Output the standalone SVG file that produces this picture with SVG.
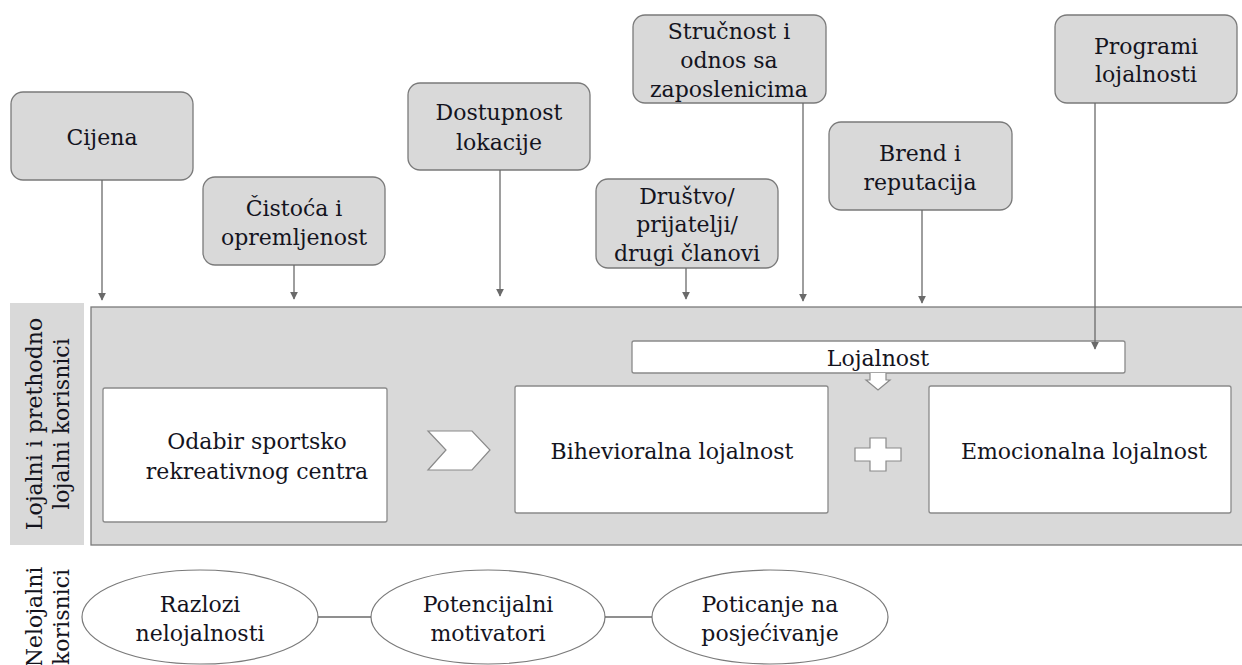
<svg xmlns="http://www.w3.org/2000/svg" width="1242" height="665" viewBox="0 0 1242 665">
<style>
  text { font-family: "DejaVu Serif", serif; font-size: 22px; fill: #14141e; text-anchor: middle; }
  .factor { fill: #d9d9d9; stroke: #7a7a7a; stroke-width: 1.3; }
  .white { fill: #ffffff; stroke: #8a8a8a; stroke-width: 1.3; }
  .panel { fill: #d9d9d9; stroke: #7a7a7a; stroke-width: 1.3; }
  .conn { stroke: #6a6a6a; stroke-width: 1.3; fill: none; }
  .ell { fill: #ffffff; stroke: #7a7a7a; stroke-width: 1.2; }
</style>
<defs>
  <marker id="arr" viewBox="0 0 10 10" refX="9" refY="5" markerWidth="8" markerHeight="8" markerUnits="userSpaceOnUse" orient="auto">
    <path d="M0,0 L10,5 L0,10 z" fill="#6a6a6a"/>
  </marker>
</defs>

<rect x="0" y="0" width="1242" height="665" fill="#ffffff"/>

<g id="panel-loyal">
  <rect x="10" y="303" width="74" height="242" fill="#d9d9d9"/>
  <text transform="translate(48,424) rotate(-90)"><tspan x="0" y="-6">Lojalni i prethodno</tspan><tspan x="0" y="21">lojalni korisnici</tspan></text>
  <rect class="panel" x="91" y="307" width="1155" height="238"/>
</g>

<g id="factor-cijena">
  <rect class="factor" x="11" y="92" width="182" height="88" rx="12"/>
  <text x="102" y="145">Cijena</text>
</g>
<g id="factor-cistoca">
  <rect class="factor" x="203" y="177" width="182" height="88" rx="12"/>
  <text x="294" y="216">Čistoća i</text>
  <text x="294" y="245">opremljenost</text>
</g>
<g id="factor-dostupnost">
  <rect class="factor" x="408" y="83" width="182" height="87" rx="12"/>
  <text x="499" y="120">Dostupnost</text>
  <text x="499" y="150">lokacije</text>
</g>
<g id="factor-drustvo">
  <rect class="factor" x="596" y="179" width="182" height="89" rx="12"/>
  <text x="687" y="204">Društvo/</text>
  <text x="687" y="232">prijatelji/</text>
  <text x="687" y="261">drugi članovi</text>
</g>
<g id="factor-strucnost">
  <rect class="factor" x="633" y="15" width="193" height="88" rx="12"/>
  <text x="729" y="39">Stručnost i</text>
  <text x="729" y="68">odnos sa</text>
  <text x="729" y="97">zaposlenicima</text>
</g>
<g id="factor-brend">
  <rect class="factor" x="829" y="122" width="183" height="88" rx="12"/>
  <text x="920" y="161">Brend i</text>
  <text x="920" y="190">reputacija</text>
</g>
<g id="factor-programi">
  <rect class="factor" x="1055" y="15" width="182" height="88" rx="12"/>
  <text x="1146" y="54">Programi</text>
  <text x="1146" y="82">lojalnosti</text>
</g>

<g id="lojalnost">
  <rect class="white" x="632" y="341" width="493" height="32" rx="2"/>
  <text x="878" y="366">Lojalnost</text>
  <path d="M870,373 L870,380 L866,380 L878,390 L890,380 L886,380 L886,373" fill="#ffffff" stroke="#8a8a8a" stroke-width="1.2"/>
</g>

<g id="odabir">
  <rect class="white" x="103" y="388" width="284" height="134" rx="2"/>
  <text x="257" y="449">Odabir sportsko</text>
  <text x="257" y="479">rekreativnog centra</text>
</g>
<g id="chevron">
  <polygon points="428,431 472,431 490,450 472,470 428,470 446,450" fill="#ffffff" stroke="#8a8a8a" stroke-width="1.2"/>
</g>
<g id="bihevioralna">
  <rect class="white" x="515" y="386" width="313" height="127" rx="2"/>
  <text x="672" y="459">Bihevioralna lojalnost</text>
</g>
<g id="plus">
  <path d="M870,438 L886,438 L886,448 L901,448 L901,461 L886,461 L886,471 L870,471 L870,461 L855,461 L855,448 L870,448 Z" fill="#ffffff" stroke="#8a8a8a" stroke-width="1.2"/>
</g>
<g id="emocionalna">
  <rect class="white" x="929" y="386" width="302" height="127" rx="2"/>
  <text x="1084" y="459">Emocionalna lojalnost</text>
</g>

<g id="panel-disloyal">
  <text transform="translate(48,617) rotate(-90)"><tspan x="0" y="-6">Nelojalni</tspan><tspan x="0" y="21">korisnici</tspan></text>
</g>
<g id="razlozi">
  <ellipse class="ell" cx="200" cy="617" rx="118" ry="47"/>
  <text x="200" y="612">Razlozi</text>
  <text x="200" y="641">nelojalnosti</text>
</g>
<g id="potencijalni">
  <ellipse class="ell" cx="488" cy="617" rx="117" ry="47"/>
  <text x="488" y="612">Potencijalni</text>
  <text x="488" y="641">motivatori</text>
</g>
<g id="poticanje">
  <ellipse class="ell" cx="770" cy="617" rx="118" ry="47"/>
  <text x="770" y="612">Poticanje na</text>
  <text x="770" y="641">posjećivanje</text>
</g>

<g id="connectors">
  <line class="conn" x1="102" y1="180" x2="102" y2="300" marker-end="url(#arr)"/>
  <line class="conn" x1="294" y1="265" x2="294" y2="299" marker-end="url(#arr)"/>
  <line class="conn" x1="500" y1="170" x2="500" y2="296" marker-end="url(#arr)"/>
  <line class="conn" x1="686" y1="268" x2="686" y2="299" marker-end="url(#arr)"/>
  <line class="conn" x1="803" y1="103" x2="803" y2="301" marker-end="url(#arr)"/>
  <line class="conn" x1="922" y1="210" x2="922" y2="303" marker-end="url(#arr)"/>
  <line class="conn" x1="1095" y1="103" x2="1095" y2="349" marker-end="url(#arr)"/>
  <line class="conn" x1="318" y1="617" x2="371" y2="617"/>
  <line class="conn" x1="605" y1="617" x2="652" y2="617"/>
</g>
</svg>
